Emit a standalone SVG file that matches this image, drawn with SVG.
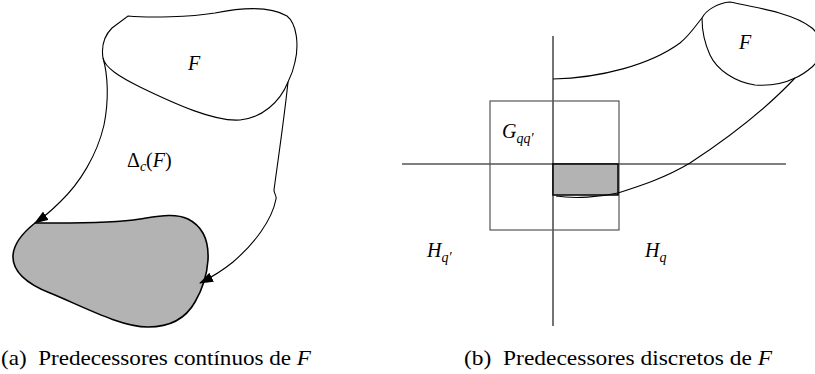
<svg xmlns="http://www.w3.org/2000/svg" width="815" height="374" viewBox="0 0 815 374">
<defs>
<marker id="ah" markerWidth="14" markerHeight="10" refX="13" refY="5" orient="auto" markerUnits="userSpaceOnUse">
<path d="M0,0 L14,5 L0,10 Z" fill="#000"/>
</marker>
<style>
.ln{fill:none;stroke:#000;stroke-width:1.1}
</style>
</defs>
<rect width="815" height="374" fill="#fff"/>

<!-- Left figure -->
<g id="F-left">
<path class="ln" d="M128,16 C150,18 190,17 215,13 C240,8 270,6 287,16 C297,24 299,45 295,62 C293,72 290,78 288,82 C280,102 262,118 240,120 C215,122 175,104 140,87 C120,77 105,68 103,58 C101,45 105,35 112,28 Z"/>
<text x="188" y="70" font-family="Liberation Serif, Times New Roman, serif" font-style="italic" font-size="20">F</text>
</g>
<g id="gray-left">
<path d="M35,223 C60,223 110,224 140,219 C160,216 175,213 188,219 C202,226 209,240 208,260 C207,275 202,290 195,302 C186,318 170,327 148,327 C120,327 80,305 50,293 C25,283 12,270 13,255 C14,243 25,231 35,223 Z" fill="#b3b3b3" stroke="#000" stroke-width="1.6"/>
</g>
<g id="connectors-left">
<path class="ln" d="M103,58 C108,75 109,100 104,125 C97,155 80,183 60,202 C52,210 44,217 35,223" marker-end="url(#ah)"/>
<path class="ln" d="M288,82 C284,120 278,160 274,190 C274,194 277,196 276,199 C272,220 255,243 233,262 C222,271 210,278 200,283" marker-end="url(#ah)"/>
<text x="127" y="167" font-family="Liberation Serif, Times New Roman, serif" font-size="20">Δ<tspan font-style="italic" font-size="14" dy="4">c</tspan><tspan dy="-4">(</tspan><tspan font-style="italic">F</tspan>)</text>
</g>

<!-- Right figure -->
<g id="axes">
<line class="ln" x1="553" y1="36" x2="553" y2="326"/>
<line class="ln" x1="402" y1="164" x2="786" y2="164"/>
</g>
<g id="G-box">
<rect x="490" y="101" width="129" height="129" fill="none" stroke="#555" stroke-width="1.2"/>
<text x="502" y="138" font-family="Liberation Serif, Times New Roman, serif" font-style="italic" font-size="20">G<tspan font-size="14" dy="5">qq′</tspan></text>
</g>
<g id="gray-right">
<rect x="553" y="164" width="65" height="31" fill="#b3b3b3" stroke="#000" stroke-width="1.5"/>
<path class="ln" d="M556,196 C575,199 600,197 618,193"/>
</g>
<g id="tube">
<path class="ln" d="M553,79 C600,78 650,65 680,43 C690,35 696,25 702,18"/>
<path class="ln" d="M618,193 C640,186 665,178 690,163 C725,140 765,110 795,78"/>
</g>
<g id="F-right">
<path class="ln" d="M702,18 C706,10 718,3 730,2 C760,8 795,14 812,28 C825,40 822,58 812,67 C805,73 800,76 795,78 C785,83 770,86 755,85 C735,82 717,70 710,55 C704,42 702,30 702,18 Z"/>
<text x="739" y="49" font-family="Liberation Serif, Times New Roman, serif" font-style="italic" font-size="20">F</text>
</g>
<g id="H-labels">
<text x="427" y="257" font-family="Liberation Serif, Times New Roman, serif" font-style="italic" font-size="20">H<tspan font-size="14" dy="5">q′</tspan></text>
<text x="645" y="257" font-family="Liberation Serif, Times New Roman, serif" font-style="italic" font-size="20">H<tspan font-size="14" dy="5">q</tspan></text>
</g>

<!-- Captions -->
<g id="captions">
<text x="1" y="365" font-family="Liberation Serif, Times New Roman, serif" font-size="21" textLength="310" lengthAdjust="spacingAndGlyphs" xml:space="preserve">(a)  Predecessores contínuos de <tspan font-style="italic">F</tspan></text>
<text x="464" y="365" font-family="Liberation Serif, Times New Roman, serif" font-size="21" textLength="308" lengthAdjust="spacingAndGlyphs" xml:space="preserve">(b)  Predecessores discretos de <tspan font-style="italic">F</tspan></text>
</g>
</svg>
